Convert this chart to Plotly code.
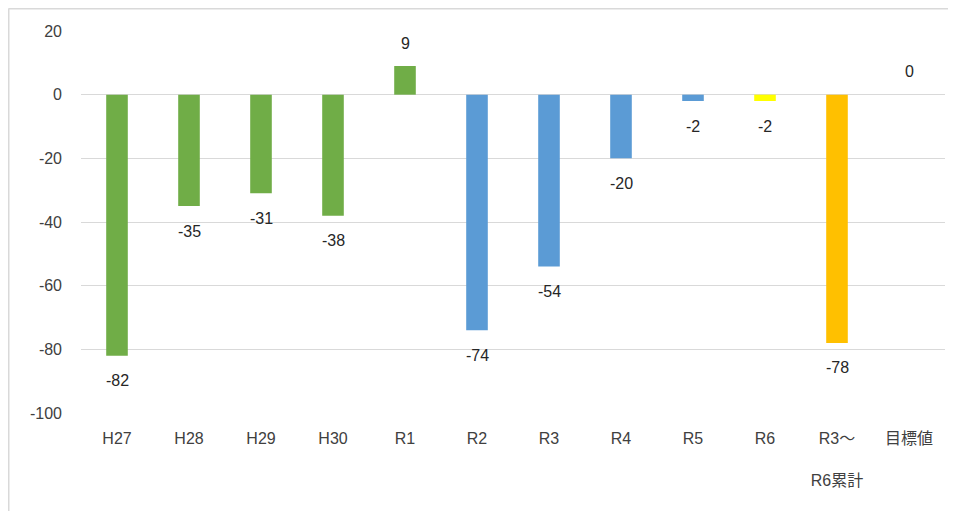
import plotly.graph_objects as go

categories = ["H27", "H28", "H29", "H30", "R1", "R2", "R3", "R4", "R5", "R6", "R3〜<br><br>R6累計", "目標値"]
values = [-82, -35, -31, -38, 9, -74, -54, -20, -2, -2, -78, 0]
bar_colors = ["#70AD47", "#70AD47", "#70AD47", "#70AD47", "#70AD47",
              "#5B9BD5", "#5B9BD5", "#5B9BD5", "#5B9BD5",
              "#FFFF00", "#FFC000", "#FFC000"]
y_ticks = [20, 0, -20, -40, -60, -80, -100]
y_tick_text = [str(v) for v in y_ticks]

FONT = "Liberation Sans, Noto Sans CJK JP, sans-serif"

W, H = 956, 511
ML, MR, MT, MB = 73, 19, 23, 106
PW, PH = W - ML - MR, H - MT - MB

fig = go.Figure()
fig.add_trace(go.Bar(
    x=categories, y=values,
    marker=dict(color=bar_colors, line=dict(width=0)),
    width=0.3,
    hoverinfo="x+y",
))

for c, v in zip(categories, values):
    fig.add_annotation(
        x=c, y=v, text=str(v), showarrow=False,
        yshift=(23 if v >= 0 else -25),
        font=dict(family=FONT, size=16, color="#262626"),
    )

bx = -(ML - 0.5) / PW
by = 1 + (MT - 0.5) / PH
fig.update_layout(
    width=W, height=H,
    margin=dict(l=ML, r=MR, t=MT, b=MB),
    paper_bgcolor="white", plot_bgcolor="white",
    showlegend=False,
    font=dict(family=FONT, size=15, color="#595959"),
    xaxis=dict(
        showgrid=False, showline=False, zeroline=False,
        ticks="", ticklabelstandoff=14,
        tickfont=dict(family=FONT, size=16, color="#404040"),
    ),
    yaxis=dict(
        range=[-100, 20], tickvals=y_ticks, ticktext=y_tick_text,
        showgrid=True, gridcolor="#D9D9D9", gridwidth=1.3,
        zeroline=False, showline=False, ticks="",
        ticklabelstandoff=18,
        tickfont=dict(family=FONT, size=16, color="#404040"),
    ),
    shapes=[
        dict(type="line", xref="paper", yref="paper", x0=bx, x1=1.05, y0=by, y1=by,
             line=dict(color="#D9D9D9", width=2)),
        dict(type="line", xref="paper", yref="paper", x0=bx, x1=bx, y0=by, y1=-0.3,
             line=dict(color="#D9D9D9", width=2)),
    ],
)

fig.write_html("out.html")
